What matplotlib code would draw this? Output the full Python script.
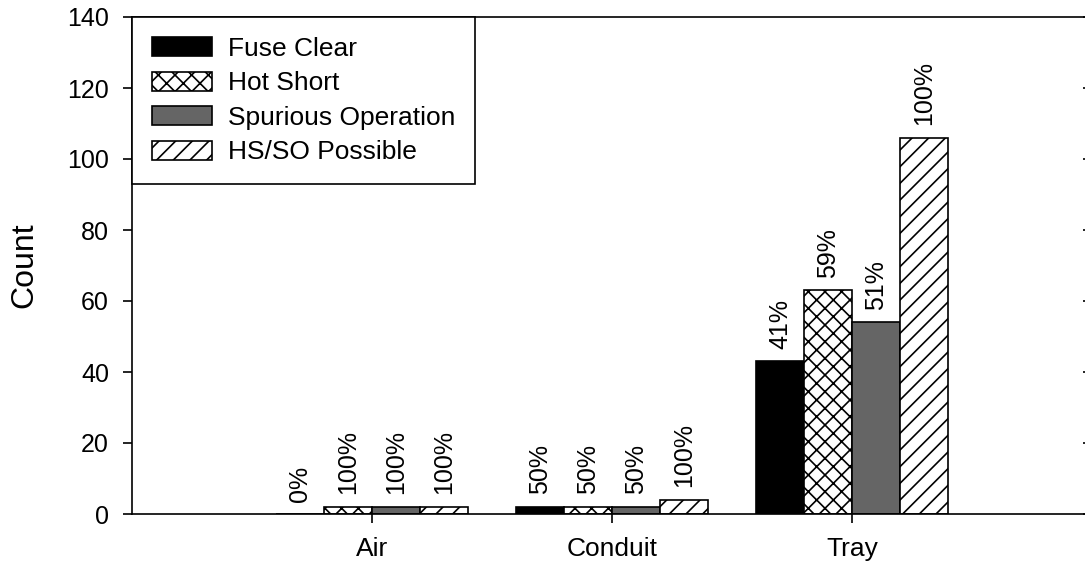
import matplotlib
matplotlib.use("Agg")
import matplotlib.pyplot as plt
import numpy as np

plt.rcParams['font.family'] = ['Liberation Sans', 'DejaVu Sans']
plt.rcParams['hatch.linewidth'] = 1.2

categories = ["Air", "Conduit", "Tray"]
series_names = ["Fuse Clear", "Hot Short", "Spurious Operation", "HS/SO Possible"]
fuse_clear = [0, 2, 43]
hot_short = [2, 2, 63]
spurious_op = [2, 2, 54]
hsso_possible = [2, 4, 106]
pct_fuse_clear = ["0%", "50%", "41%"]
pct_hot_short = ["100%", "50%", "59%"]
pct_spurious_op = ["100%", "50%", "51%"]
pct_hsso_possible = ["100%", "100%", "100%"]
y_ticks = [0, 20, 40, 60, 80, 100, 120, 140]

series = [fuse_clear, hot_short, spurious_op, hsso_possible]
pcts = [pct_fuse_clear, pct_hot_short, pct_spurious_op, pct_hsso_possible]
styles = [
    dict(facecolor="black", hatch=None),
    dict(facecolor="white", hatch="xx"),
    dict(facecolor="#656565", hatch=None),
    dict(facecolor="white", hatch="//"),
]

W, H, DPI = 1085, 569, 100
fig = plt.figure(figsize=(W / DPI, H / DPI), dpi=DPI)
ax = fig.add_axes([132 / W, (H - 514) / H, 960 / W, 497 / H])

x = np.arange(len(categories))
bw = 0.2
offsets = [-0.3, -0.1, 0.1, 0.3]
handles = []
for vals, lbls, st, name, off in zip(series, pcts, styles, series_names, offsets):
    bars = ax.bar(x + off, vals, width=bw, facecolor=st["facecolor"], hatch=st["hatch"],
                  edgecolor="black", linewidth=1.2, label=name, zorder=2)
    handles.append(bars)
    for xi, v, t in zip(x + off, vals, lbls):
        ax.annotate(t, (xi, v), xytext=(0, 9), textcoords="offset points",
                    rotation=90, ha="center", va="bottom", fontsize=18)

ax.set_xlim(-1, 3)
ax.set_ylim(0, 140)
ax.set_yticks(y_ticks)
ax.set_xticks(x)
ax.set_xticklabels(categories)
ax.tick_params(axis="both", labelsize=18, length=6.5, width=1.2, direction="out", pad=10)
ax.tick_params(axis="x", labelsize=19)
for spine in ["left", "top", "bottom"]:
    ax.spines[spine].set_linewidth(1.2)
ax.spines["right"].set_visible(False)
ax.set_ylabel("Count", fontsize=23, labelpad=20)

# right-side inward ticks
ax2 = ax.twinx()
ax2.set_ylim(0, 140)
ax2.set_yticks(y_ticks)
ax2.tick_params(axis="y", direction="in", length=6.5, width=1.2, labelright=False)
for spine in ["right", "top", "left", "bottom"]:
    ax2.spines[spine].set_visible(False)

leg = ax.legend(handles=handles, loc="upper left", bbox_to_anchor=(0, 1), borderaxespad=0,
                fontsize=19, frameon=True, fancybox=False, edgecolor="black",
                handlelength=2.3, handleheight=0.72, handletextpad=0.6,
                labelspacing=0.4, borderpad=0.75)
leg.get_frame().set_linewidth(1.2)
leg.get_frame().set_alpha(1)

fig.savefig("out.png", dpi=DPI)
